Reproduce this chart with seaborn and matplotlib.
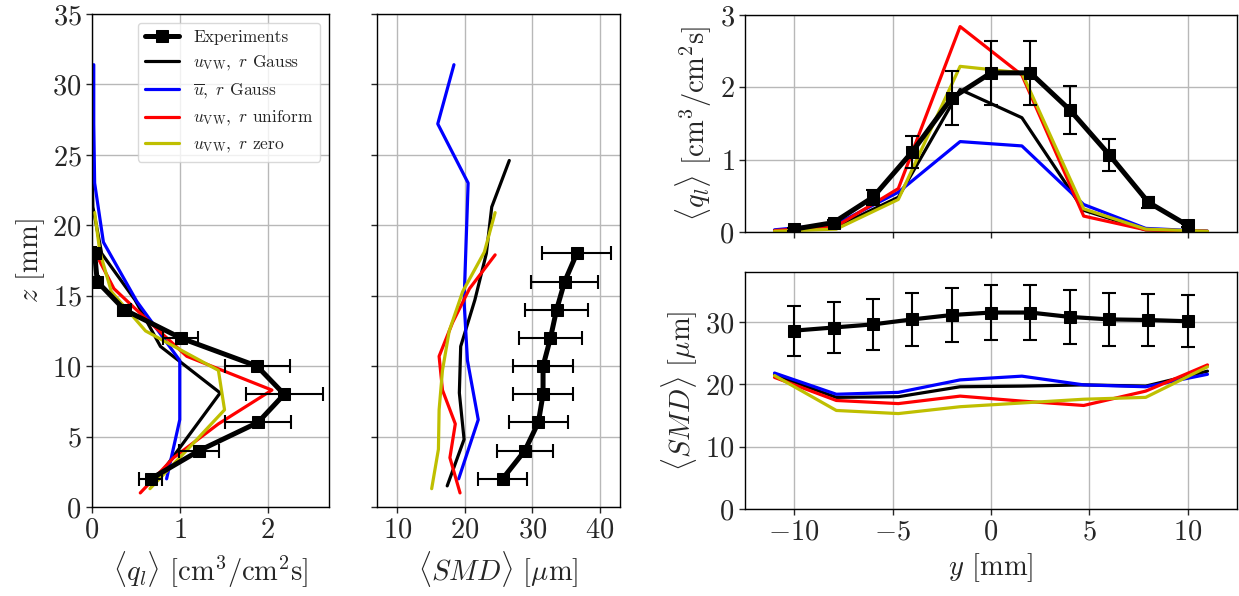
import numpy as np
import pandas as pd
import matplotlib
matplotlib.use("Agg")
import matplotlib.pyplot as plt
import seaborn as sns

# ---------------- data ----------------
# Vertical profiles (left: <q_l>, middle: <SMD>) vs z [mm]
exp_z = [2, 4, 6, 8, 10, 12, 14, 16, 18]
exp_q = [0.67, 1.22, 1.89, 2.19, 1.88, 1.01, 0.37, 0.06, 0.03]
exp_q_err = [0.13, 0.23, 0.38, 0.44, 0.37, 0.20, 0.07, 0.02, 0.01]
exp_smd = [25.6, 28.9, 30.9, 31.6, 31.6, 32.7, 33.6, 34.8, 36.6]
exp_smd_err = [3.6, 4.1, 4.4, 4.5, 4.5, 4.6, 4.7, 5.0, 5.1]

gauss_z = [1.5, 4.8, 8.1, 11.4, 14.7, 18.0, 21.3, 24.6]
gauss_q = [0.68, 1.07, 1.46, 0.78, 0.49, 0.11, 0.01, 0.0]
gauss_smd = [17.4, 19.9, 19.2, 19.4, 21.5, 23.2, 24.0, 26.6]

mean_z = [2.0, 6.2, 10.4, 14.6, 18.8, 23.0, 27.2, 31.4]
mean_q = [0.85, 1.0, 1.0, 0.51, 0.13, 0.03, 0.02, 0.02]
mean_smd = [19.1, 22.0, 20.4, 19.9, 20.2, 20.5, 16.0, 18.4]

unif_z = [1.0, 3.5, 5.9, 8.3, 10.7, 13.1, 15.5, 17.9]
unif_q = [0.55, 0.93, 1.44, 2.05, 1.08, 0.66, 0.25, 0.05]
unif_smd = [19.3, 17.8, 18.6, 16.7, 16.2, 18.2, 20.7, 24.5]

zero_z = [1.3, 4.1, 6.9, 9.7, 12.5, 15.3, 18.1, 20.9]
zero_q = [0.66, 1.09, 1.51, 1.44, 0.61, 0.22, 0.09, 0.03]
zero_smd = [15.1, 16.1, 16.2, 16.7, 17.7, 19.7, 22.9, 24.5]

# Horizontal profiles (right) vs y [mm]
exp_y = [-10, -8, -6, -4, -2, 0, 2, 4, 6, 8, 10]
exp_qy = [0.04, 0.13, 0.48, 1.11, 1.85, 2.20, 2.20, 1.69, 1.07, 0.41, 0.09]
exp_qy_err = [0.02, 0.03, 0.10, 0.22, 0.37, 0.44, 0.44, 0.33, 0.22, 0.08, 0.02]
exp_smdy = [28.6, 29.1, 29.6, 30.4, 31.1, 31.5, 31.5, 30.8, 30.4, 30.3, 30.1]
exp_smdy_err = [4.0, 4.1, 4.1, 4.25, 4.3, 4.4, 4.4, 4.3, 4.25, 4.2, 4.2]

model_y = [-11.0, -7.86, -4.71, -1.57, 1.57, 4.71, 7.86, 11.0]
gauss_qy = [0.02, 0.07, 0.48, 1.97, 1.58, 0.30, 0.03, 0.01]
mean_qy = [0.03, 0.11, 0.55, 1.25, 1.19, 0.38, 0.05, 0.01]
unif_qy = [0.02, 0.08, 0.60, 2.84, 2.17, 0.22, 0.03, 0.01]
zero_qy = [0.01, 0.04, 0.45, 2.29, 2.20, 0.32, 0.04, 0.01]

gauss_smdy = [21.5, 17.9, 18.0, 19.6, 19.7, 19.9, 19.7, 22.1]
mean_smdy = [21.8, 18.4, 18.7, 20.7, 21.3, 19.9, 19.6, 21.6]
unif_smdy = [21.1, 17.4, 16.9, 18.1, 17.3, 16.6, 18.9, 23.1]
zero_smdy = [21.4, 15.8, 15.3, 16.4, 17.0, 17.6, 17.9, 22.8]

labels = ["Experiments",
          r"$u_{\rm VW},\ r$ Gauss",
          r"$\overline{u},\ r$ Gauss",
          r"$u_{\rm VW},\ r$ uniform",
          r"$u_{\rm VW},\ r$ zero"]

# ---------------- style ----------------
sns.set_style("ticks")
plt.rcParams["font.family"] = ["serif"]
plt.rcParams["font.serif"] = ["cmr10", "DejaVu Serif"]
plt.rcParams["mathtext.fontset"] = "cm"
plt.rcParams["axes.formatter.use_mathtext"] = True
plt.rcParams["axes.unicode_minus"] = False
plt.rcParams["axes.edgecolor"] = "black"
plt.rcParams["axes.linewidth"] = 1.0

TICK_FS = 20.5
LAB_FS = 20.5
MLW = 2.3
MS = 8

fig = plt.figure(figsize=(12.39, 5.96), dpi=100)
axL = fig.add_axes([92/1239, 1-507/596, 237/1239, 493/596])
axM = fig.add_axes([377/1239, 1-507/596, 243/1239, 493/596])
axT = fig.add_axes([745/1239, 1-232/596, 492/1239, 217/596])
axB = fig.add_axes([745/1239, 1-509/596, 492/1239, 237/596])


def vline(ax, xv, zv, color, lw, label=None, marker=None, ms=0, z=2):
    df = pd.DataFrame({"x": xv, "z": zv})
    sns.lineplot(data=df, x="x", y="z", sort=False, estimator=None, color=color,
                 lw=lw, marker=marker, markersize=ms, markeredgecolor=color,
                 label=label, ax=ax, zorder=z, legend=False)


def hline(ax, yv, vv, color, lw, label=None, marker=None, ms=0, z=2):
    df = pd.DataFrame({"y": yv, "v": vv})
    sns.lineplot(data=df, x="y", y="v", sort=False, estimator=None, color=color,
                 lw=lw, marker=marker, markersize=ms, markeredgecolor=color,
                 label=label, ax=ax, zorder=z, legend=False)


# Left panel
axL.errorbar(exp_q, exp_z, xerr=exp_q_err, fmt="none", ecolor="k", elinewidth=1.5,
             capsize=5, capthick=1.5, zorder=3)
vline(axL, exp_q, exp_z, "k", 3.6, labels[0], "s", MS, z=4)
vline(axL, gauss_q, gauss_z, "k", MLW, labels[1])
vline(axL, mean_q, mean_z, "b", MLW, labels[2])
vline(axL, unif_q, unif_z, "r", MLW, labels[3])
vline(axL, zero_q, zero_z, "y", MLW, labels[4])

# Middle panel
axM.errorbar(exp_smd, exp_z, xerr=exp_smd_err, fmt="none", ecolor="k", elinewidth=1.5,
             capsize=5, capthick=1.5, zorder=3)
vline(axM, exp_smd, exp_z, "k", 3.6, None, "s", MS, z=4)
vline(axM, gauss_smd, gauss_z, "k", MLW)
vline(axM, mean_smd, mean_z, "b", MLW)
vline(axM, unif_smd, unif_z, "r", MLW)
vline(axM, zero_smd, zero_z, "y", MLW)

# Top right
axT.errorbar(exp_y, exp_qy, yerr=exp_qy_err, fmt="none", ecolor="k", elinewidth=1.5,
             capsize=5, capthick=1.5, zorder=3)
hline(axT, exp_y, exp_qy, "k", 3.6, None, "s", MS, z=4)
hline(axT, model_y, gauss_qy, "k", MLW)
hline(axT, model_y, mean_qy, "b", MLW)
hline(axT, model_y, unif_qy, "r", MLW)
hline(axT, model_y, zero_qy, "y", MLW)

# Bottom right
axB.errorbar(exp_y, exp_smdy, yerr=exp_smdy_err, fmt="none", ecolor="k", elinewidth=1.5,
             capsize=5, capthick=1.5, zorder=3)
hline(axB, exp_y, exp_smdy, "k", 3.0, None, "s", MS, z=4)
hline(axB, model_y, gauss_smdy, "k", MLW)
hline(axB, model_y, mean_smdy, "b", MLW)
hline(axB, model_y, unif_smdy, "r", MLW)
hline(axB, model_y, zero_smdy, "y", MLW)

# Axes formatting
for ax in (axL, axM, axT, axB):
    ax.grid(True, color="#b8b8b8", lw=1.0)
    ax.set_axisbelow(True)
    ax.tick_params(labelsize=TICK_FS, direction="out", length=4, width=1)
    for s in ax.spines.values():
        s.set_visible(True)
        s.set_color("black")
    ax.set_xlabel("")
    ax.set_ylabel("")

axL.set_xlim(0, 2.7)
axL.set_ylim(0, 35)
axL.set_xticks([0, 1, 2])
axL.set_yticks(np.arange(0, 36, 5))
axL.set_xlabel(r"$\langle q_l\rangle$ [cm$^3$/cm$^2$s]", fontsize=LAB_FS)
axL.set_ylabel(r"$z$ [mm]", fontsize=LAB_FS)
axL.legend(loc="upper right", fontsize=12.5, frameon=True, fancybox=True,
           framealpha=0.8, edgecolor="#d0d0d0", handlelength=2.0,
           borderaxespad=0.5)

axM.set_xlim(7, 43)
axM.set_ylim(0, 35)
axM.set_xticks([10, 20, 30, 40])
axM.set_yticks(np.arange(0, 36, 5))
axM.tick_params(labelleft=False)
axM.set_xlabel(r"$\langle SMD\rangle$ [$\mu$m]", fontsize=LAB_FS)

axT.set_xlim(-12.5, 12.5)
axT.set_ylim(0, 3)
axT.set_xticks([-10, -5, 0, 5, 10])
axT.set_yticks([0, 1, 2, 3])
axT.tick_params(labelbottom=False)
axT.set_ylabel(r"$\langle q_l\rangle$ [cm$^3$/cm$^2$s]", fontsize=LAB_FS)

axB.set_xlim(-12.5, 12.5)
axB.set_ylim(0, 38)
axB.set_xticks([-10, -5, 0, 5, 10])
axB.set_yticks([0, 10, 20, 30])
axB.set_xlabel(r"$y$ [mm]", fontsize=LAB_FS)
axB.set_ylabel(r"$\langle SMD\rangle$ [$\mu$m]", fontsize=LAB_FS)

fig.savefig("out.png", dpi=100)
